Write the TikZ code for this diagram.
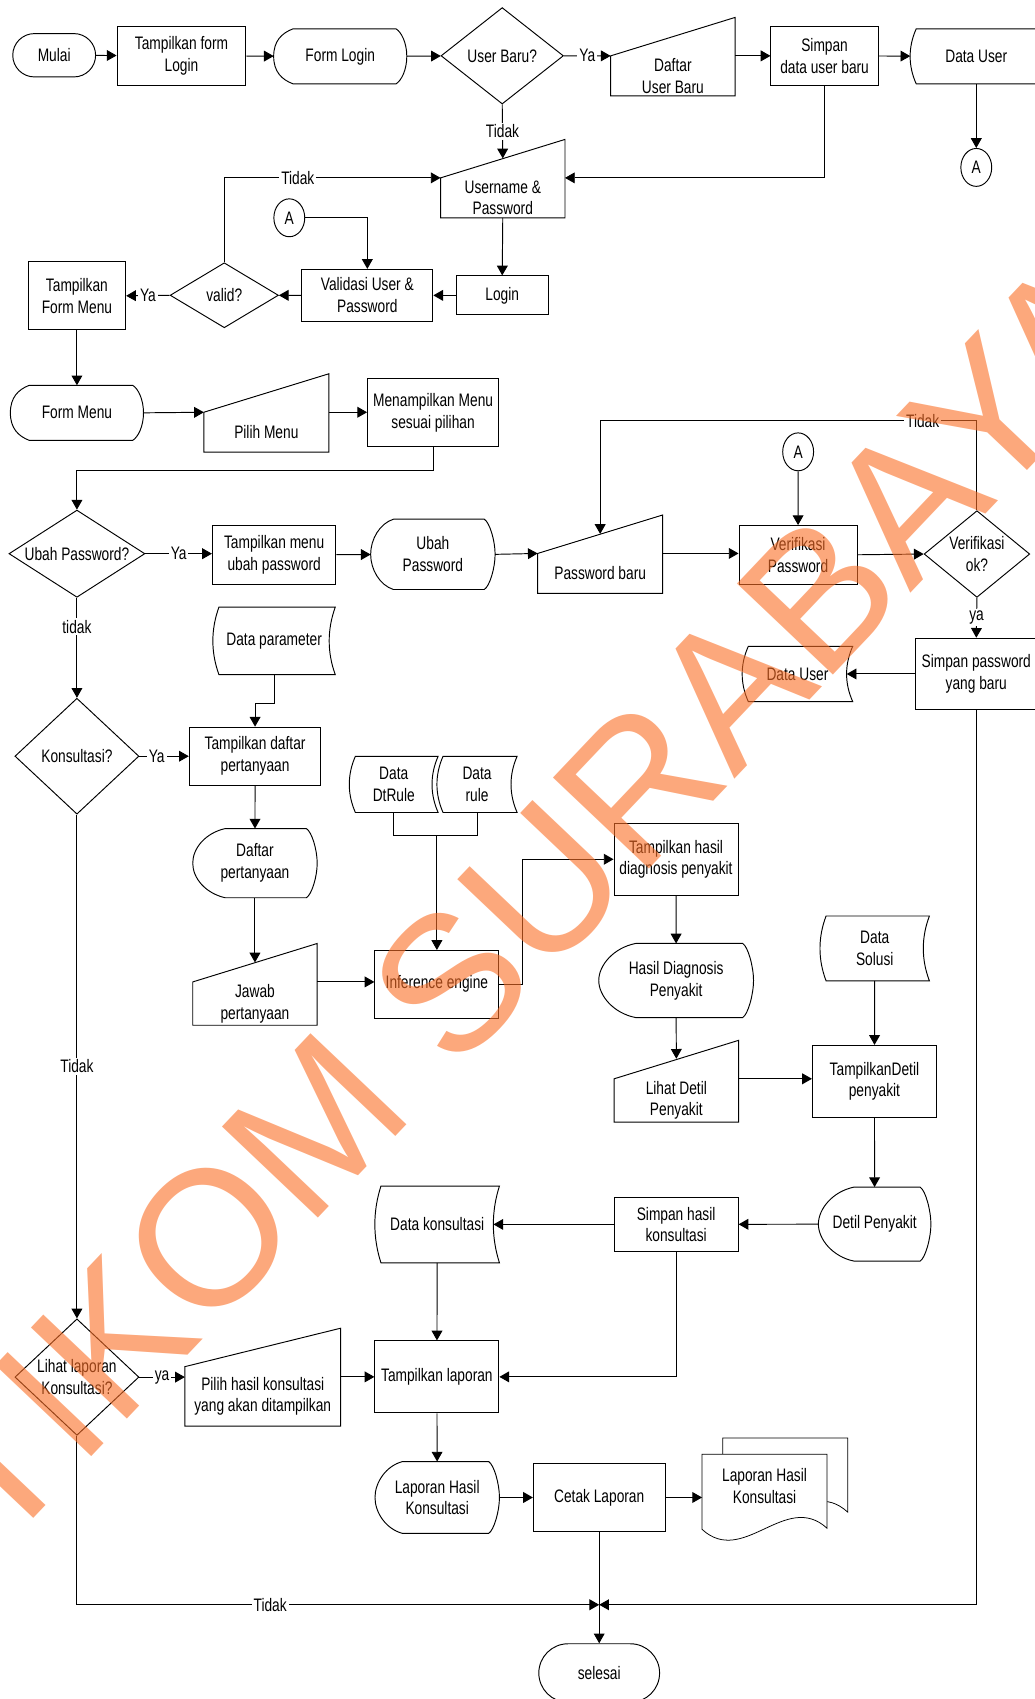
\documentclass[tikz,border=0pt]{standalone}
\usepackage{fontspec}
\setmainfont{Liberation Sans}[FakeStretch=0.76]
\newfontfamily\wmfont{Liberation Sans}
\usetikzlibrary{arrows.meta,shapes.geometric,shapes.misc,calc,backgrounds}
\definecolor{wmorange}{RGB}{250,110,37}

\begin{document}
\begin{tikzpicture}[
    x=0.02cm, y=0.02cm,
    font=\fontsize{9.5pt}{11.4pt}\selectfont,
    line width=0.5pt,
    proc/.style={rectangle,draw,align=center,inner sep=1pt},
    term/.style={rounded rectangle,draw,align=center,inner sep=1pt},
    dec/.style={diamond,draw,align=center,inner sep=0pt},
    io/.style={rectangle,align=center,inner sep=1pt,minimum height=0.72cm},
    disp/.style={rectangle,align=center,inner sep=1pt},
    store/.style={rectangle,align=center,inner sep=1pt},
    conn/.style={ellipse,draw,inner sep=0pt,minimum width=0.57cm,minimum height=0.7cm},
    arr/.style={-{Triangle[length=1.8mm,width=2mm]}},
    lbl/.style={fill=white,inner sep=1pt}
]
\useasboundingbox (0,0) rectangle (955,-1568);
\clip (0,0) rectangle (955,-1568);

% login
\node[term,minimum width=1.6cm,minimum height=0.8cm] (mulai) at (50,-51) {Mulai};
\node[proc,minimum width=2.38cm,minimum height=1.08cm] (tfl) at (167.5,-51.5) {Tampilkan form\\Login};
\node[disp,minimum width=2.44cm,minimum height=1cm] (fl) at (314,-52) {Form Login};
\node[dec,aspect=1.27,minimum width=2.26cm,minimum height=1.78cm] (ub) at (463.5,-51.5) {User Baru?};
\node[io,minimum width=2.28cm] (dub) at (621,-70) {Daftar\\User Baru};
\node[proc,minimum width=1.98cm,minimum height=1.08cm] (sdb) at (761,-51.5) {Simpan\\data user baru};
\node[store,minimum width=2.42cm,minimum height=1cm] (du1) at (901,-52) {Data User};
\node[conn] (ca1) at (901,-154.5) {A};
\node[io,minimum width=2.28cm] (up) at (464,-182.6) {Username \&\\Password};
\node[conn] (ca2) at (267,-201) {A};
\node[proc,minimum width=2.42cm,minimum height=0.96cm] (val) at (339,-272.6) {Validasi User \&\\Password};
\node[proc,minimum width=1.7cm,minimum height=0.72cm] (login) at (463.5,-272.6) {Login};
\node[dec,aspect=1.67,minimum width=2cm,minimum height=1.2cm] (vd) at (207,-272.5) {valid?};
\node[proc,minimum width=1.8cm,minimum height=1.26cm] (tfm) at (71,-273) {Tampilkan\\Form Menu};

% menu
\node[disp,minimum width=2.44cm,minimum height=1cm] (fm) at (71,-381) {Form Menu};
\node[io,minimum width=2.29cm] (pm) at (245.8,-398.9) {Pilih Menu};
\node[proc,minimum width=2.42cm,minimum height=1.26cm] (mm) at (399.7,-380.7) {Menampilkan Menu\\sesuai pilihan};

% ubah password
\node[dec,aspect=1.56,minimum width=2.51cm,minimum height=1.61cm] (ubp) at (71,-511) {Ubah Password?};
\node[proc,minimum width=2.28cm,minimum height=1.08cm] (tmu) at (253,-512) {Tampilkan menu\\ubah password};
\node[disp,minimum width=2.28cm,minimum height=1.28cm] (uba) at (399.5,-511.6) {Ubah\\Password};
\node[io,minimum width=2.29cm] (pb) at (553.9,-529.2) {Password baru};
\node[conn] (ca3) at (736.6,-417) {A};
\node[proc,minimum width=2.18cm,minimum height=1.08cm] (vp) at (736.5,-512) {Verifikasi\\Password};
\node[dec,aspect=1.22,minimum width=1.95cm,minimum height=1.6cm] (vok) at (901.6,-511.3) {Verifikasi\\ok?};
\node[proc,minimum width=2.24cm,minimum height=1.32cm] (spb) at (901,-622) {Simpan password\\yang baru};
\node[store,minimum width=2.02cm,minimum height=1cm] (du2) at (736,-622) {Data User};

% konsultasi
\node[dec,aspect=1.07,minimum width=2.29cm,minimum height=2.14cm] (kon) at (71,-697.9) {Konsultasi?};
\node[store,minimum width=2.24cm,minimum height=1.23cm] (dpar) at (253,-591.5) {Data parameter};
\node[proc,minimum width=2.43cm,minimum height=1.07cm] (tdp) at (235.4,-697.8) {Tampilkan daftar\\pertanyaan};
\node[disp,minimum width=2.28cm,minimum height=1.26cm] (dp2) at (235.3,-796.6) {Daftar\\pertanyaan};
\node[io,minimum width=2.28cm] (jp) at (235.3,-926.2) {Jawab\\pertanyaan};
\node[store,minimum width=1.62cm,minimum height=1.02cm] (dtr) at (363.4,-723.9) {Data\\DtRule};
\node[store,minimum width=1.46cm,minimum height=1.02cm] (dru) at (440.3,-723.9) {Data\\rule};
\node[proc,minimum width=2.29cm,minimum height=1.25cm] (ie) at (403.2,-908.4) {Inference engine};
\node[proc,minimum width=2.29cm,minimum height=1.33cm] (thd) at (623.9,-793) {Tampilkan hasil\\diagnosis penyakit};
\node[disp,minimum width=2.84cm,minimum height=1.35cm] (hdp) at (624,-904.9) {Hasil Diagnosis\\Penyakit};
\node[io,minimum width=2.28cm,minimum height=0.74cm] (ldp) at (624.2,-1015.6) {Lihat Detil\\Penyakit};
\node[store,minimum width=2cm,minimum height=1.18cm] (dso) at (807.3,-875.3) {Data\\Solusi};
\node[proc,minimum width=2.29cm,minimum height=1.33cm] (tdt) at (807,-998) {TampilkanDetil\\penyakit};
\node[disp,minimum width=2.06cm,minimum height=1.35cm] (dtp) at (807.2,-1129.7) {Detil Penyakit};
\node[proc,minimum width=2.29cm,minimum height=1.01cm] (shk) at (624,-1130) {Simpan hasil\\konsultasi};
\node[store,minimum width=2.28cm,minimum height=1.4cm] (dko) at (403.5,-1130) {Data konsultasi};

% laporan
\node[dec,aspect=1.065,minimum width=2.29cm,minimum height=2.15cm] (lap) at (71,-1270.9) {Lihat laporan\\Konsultasi?};
\node[io,minimum width=2.86cm,minimum height=1.08cm] (ph) at (242.5,-1288.7) {Pilih hasil konsultasi\\yang akan ditampilkan};
\node[proc,minimum width=2.29cm,minimum height=1.33cm] (tl) at (403.2,-1270.7) {Tampilkan laporan};
\node[disp,minimum width=2.28cm,minimum height=1.31cm] (lhk) at (403.5,-1382) {Laporan Hasil\\Konsultasi};
\node[proc,minimum width=2.43cm,minimum height=1.27cm] (cl) at (553,-1382) {Cetak Laporan};
\node[rectangle,align=center,inner sep=1pt,minimum width=2.29cm,minimum height=1.16cm] (doc) at (705.6,-1371.5) {Laporan Hasil\\Konsultasi};
\node[term,minimum width=2.3cm,minimum height=1.08cm] (sel) at (553,-1544) {selesai};
\coordinate (mg) at (553,-1481);

% outlines of the special symbols
\foreach \n in {dub,up,pm,pb,jp,ldp,ph}
  \draw (\n.south west) -- (\n.south east) -- ([yshift=0.71cm]\n.north east) -- (\n.north west) -- cycle;
\foreach \n/\a in {fl/0.36cm,fm/0.35cm,uba/0.42cm,dp2/0.6cm,hdp/0.68cm,dtp/0.66cm,lhk/0.51cm}
  \draw ([xshift=\a]\n.north west) -- ([xshift=-0.2cm]\n.north east)
    .. controls ([xshift=-0.1cm,yshift=-0.06cm]\n.north east) and ([yshift=0.25cm]\n.east) .. (\n.east)
    .. controls ([yshift=-0.25cm]\n.east) and ([xshift=-0.1cm,yshift=0.06cm]\n.south east) .. ([xshift=-0.2cm]\n.south east)
    -- ([xshift=\a]\n.south west)
    .. controls ([xshift=0.4*\a,yshift=0.08cm]\n.south west) and ([yshift=-0.28cm]\n.west) .. (\n.west)
    .. controls ([yshift=0.28cm]\n.west) and ([xshift=0.4*\a,yshift=-0.08cm]\n.north west) .. ([xshift=\a]\n.north west) -- cycle;
\foreach \n in {du1,du2,dpar,dtr,dru,dso,dko}
  \draw ([xshift=0.11cm]\n.north west) -- (\n.north east)
    .. controls ($(\n.north east)!0.33!(\n.south east)+(-0.15cm,0)$) and ($(\n.north east)!0.67!(\n.south east)+(-0.15cm,0)$) .. (\n.south east)
    -- ([xshift=0.11cm]\n.south west)
    .. controls ($(\n.south west)!0.33!(\n.north west)+(-0.04cm,0)$) and ($(\n.south west)!0.67!(\n.north west)+(-0.04cm,0)$) .. ([xshift=0.11cm]\n.north west) -- cycle;
\begin{scope}[on background layer]
  \draw[fill=white] ([shift={(0.38cm,0.3cm)}]doc.north west) -- ([shift={(0.38cm,0.3cm)}]doc.north east) -- ([shift={(0.38cm,0.11cm)}]doc.south east)
    .. controls ([shift={(-0.383cm,0.81cm)}]doc.south east) and ([shift={(1.143cm,-0.61cm)}]doc.south west) .. ([shift={(0.38cm,0.09cm)}]doc.south west) -- cycle;
  \draw[fill=white] (doc.north west) -- (doc.north east) -- ([yshift=-0.19cm]doc.south east)
    .. controls ([shift={(-0.763cm,0.51cm)}]doc.south east) and ([shift={(0.763cm,-0.91cm)}]doc.south west) .. ([yshift=-0.21cm]doc.south west) -- cycle;
\end{scope}

% connectors
\draw[arr] (mulai) -- (tfl);
\draw[arr] (tfl) -- (fl);
\draw[arr] (fl) -- (ub);
\draw[arr] (ub.east) -- node[lbl]{Ya} (dub.north west);
\draw[arr] (dub.north east) -- (dub.north east -| sdb.west);
\draw[arr] (sdb) -- (du1);
\draw[arr] (du1) -- (ca1);
\draw[arr] (ub.south) -- node[lbl]{Tidak} ([yshift=0.36cm]up.north);
\draw[arr] (sdb.south) |- (up.north east);
\draw[arr] (vd.north) |- node[lbl,pos=0.67]{Tidak} (up.north west);
\draw[arr] (ca2.east) -| (val.north);
\draw[arr] (up.south) -- (login.north);
\draw[arr] (login) -- (val);
\draw[arr] (val) -- (vd);
\draw[arr] (vd.west) -- node[lbl]{Ya} (tfm.east);

\draw[arr] (tfm) -- (fm);
\draw[arr] (fm.east) -- (pm.north west);
\draw[arr] (pm.north east) -- (pm.north east -| mm.west);
\draw[arr] (mm.south) -- ++(0,-21.7) -| (ubp.north);

\draw[arr] (ubp.east) -- node[lbl]{Ya} (ubp.east -| tmu.west);
\draw[arr] (tmu) -- (uba);
\draw[arr] (uba.east) -- (pb.north west);
\draw[arr] (pb.north east) -- (pb.north east -| vp.west);
\draw[arr] (ca3) -- (vp);
\draw[arr] (vp.east) -- (vok.west);
\draw[arr] (vok.north) -- ++(0,82.7) -| node[lbl,pos=0.072]{Tidak} ([yshift=0.36cm]pb.north);
\draw[arr] (vok.south) -- node[lbl]{ya} (spb.north);
\draw[arr] (spb.west) -- ([xshift=-0.11cm]du2.east);

\draw[arr] (ubp.south) -- node[lbl,pos=0.29]{tidak} (kon.north);
\draw[arr] (kon.east) -- node[lbl,pos=0.35]{Ya} (kon.east -| tdp.west);
\draw[arr] (dpar.south) -- ++(0,-26.8) -| (tdp.north);
\draw[arr] (tdp) -- (dp2);
\draw[arr] (dp2.south) -- ([yshift=0.36cm]jp.north);
\draw[arr] (jp.north east) -- (jp.north east -| ie.west);
\draw (dtr.south) -- ++(0,-21) -| (dru.south);
\draw[arr] ($(ie.north |- dtr.south)+(0,-21)$) -- (ie.north);
\draw[arr] (ie.east) -- ++(21.6,0) |- (thd.west);
\draw[arr] (thd) -- (hdp);
\draw[arr] (hdp.south) -- ([yshift=0.37cm]ldp.north);
\draw[arr] (ldp.north east) -- (ldp.north east -| tdt.west);
\draw[arr] (dso) -- (tdt);
\draw[arr] (tdt) -- (dtp);
\draw[arr] (dtp) -- (shk);
\draw[arr] (shk.west) -- ([xshift=-0.11cm]dko.east);
\draw[arr] (shk.south) |- (tl.east);
\draw[arr] (dko) -- (tl);

\draw[arr] (kon.south) -- node[lbl]{Tidak} (lap.north);
\draw[arr] (lap.east) -- node[lbl]{ya} (lap.east -| ph.west);
\draw[arr] (tl.west -| ph.east) -- (tl.west);
\draw[arr] (tl) -- (lhk);
\draw[arr] (lhk) -- (cl);
\draw[arr] (cl.east) -- (cl.east -| doc.west);
\draw[arr] (cl.south) -- (sel.north);
\draw[arr] (lap.south) |- node[lbl,pos=0.685]{Tidak} (mg);
\draw[arr] (spb.south) |- (mg);

% watermark
\node[font=\wmfont\fontsize{101pt}{101pt}\selectfont,text=wmorange,text opacity=0.6,rotate=46.5,inner sep=0pt] (wm) at (448,-873) {STIKOM SURABAYA};
\end{tikzpicture}
\end{document}
